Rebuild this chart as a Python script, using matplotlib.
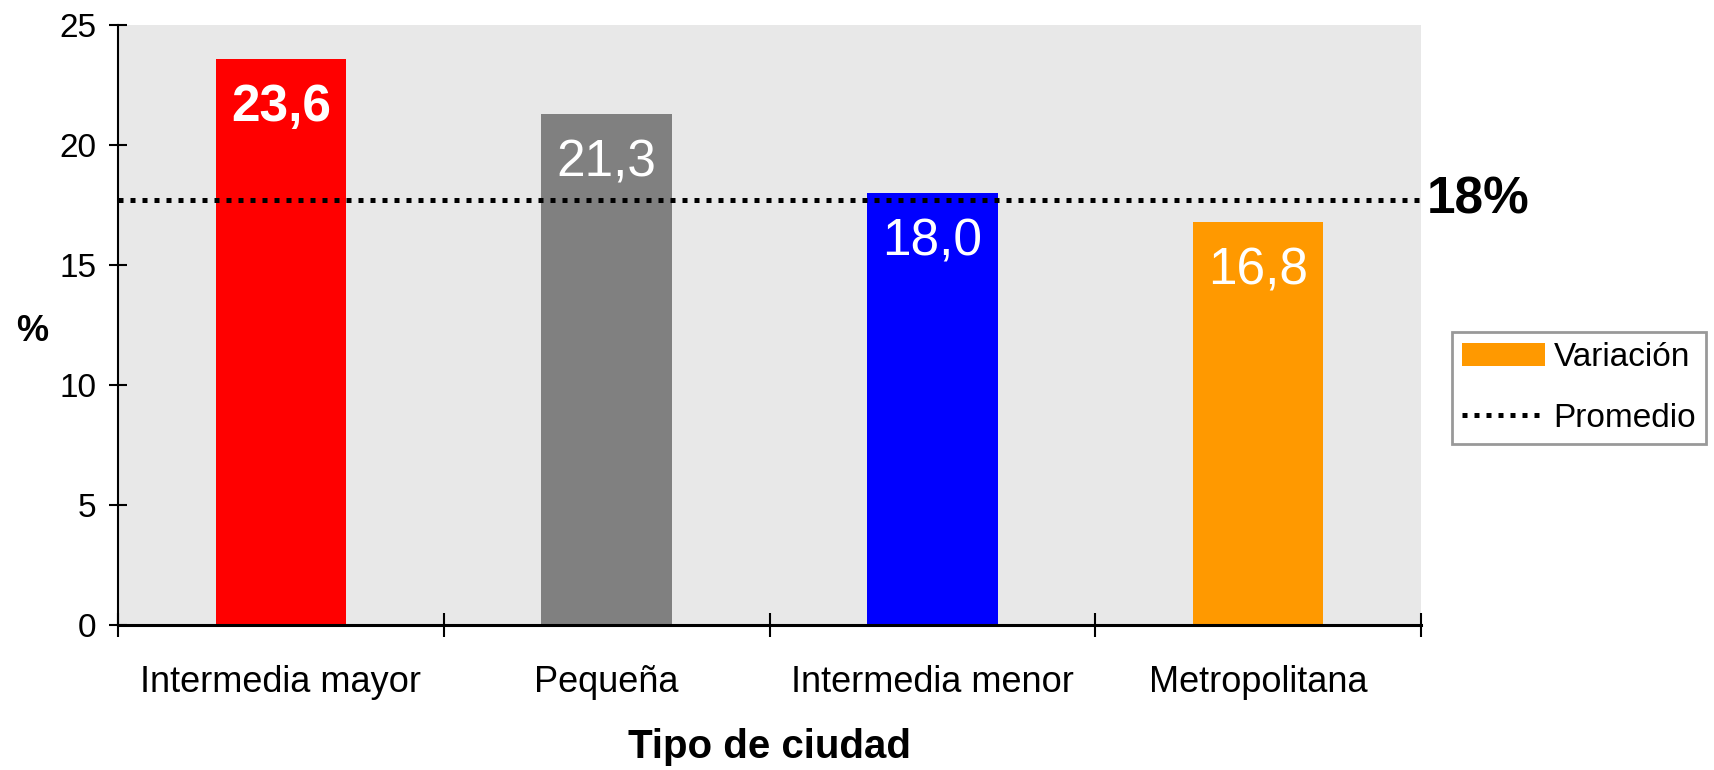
import numpy as np
import matplotlib.pyplot as plt
from matplotlib.patches import Patch
from matplotlib.lines import Line2D

plt.rcParams['font.family'] = ['Liberation Sans', 'DejaVu Sans']

categorias = ["Intermedia mayor", "Pequeña", "Intermedia menor", "Metropolitana"]
variacion = [23.6, 21.3, 18.0, 16.8]
etiquetas = ["23,6", "21,3", "18,0", "16,8"]
promedio = 17.7
colores = ["#FF0000", "#808080", "#0000FF", "#FF9900"]

fig = plt.figure(figsize=(17.15, 7.7), dpi=100)
ax = fig.add_axes([0.0688, 0.1883, 0.7598, 0.7792])
ax.set_facecolor("#E8E8E8")

x = np.arange(len(categorias))
ax.bar(x, variacion, width=0.4, color=colores, zorder=2)

for i, (v, t) in enumerate(zip(variacion, etiquetas)):
    ax.text(i, v - 2.05, t, ha="center", va="center", color="white",
            fontsize=37, fontweight="bold" if i == 0 else "normal", zorder=4)

ax.axhline(promedio, color="black", lw=3.6, linestyle=(0, (1, 1.4)), zorder=3)
ax.text(1.004, promedio, "18%", transform=ax.get_yaxis_transform(),
        ha="left", va="center", fontsize=37, fontweight="bold")

ax.set_xlim(-0.5, 3.5)
ax.set_ylim(0, 25)
ax.set_yticks([0, 5, 10, 15, 20, 25])
ax.tick_params(axis="y", direction="inout", length=13, width=1.5, labelsize=24, pad=9)
ax.set_xticks(np.arange(-0.5, 4, 1))
ax.set_xticklabels([])
ax.set_xticks(x, minor=True)
ax.set_xticklabels(categorias, minor=True)
ax.tick_params(axis="x", which="major", direction="inout", length=17, width=1.5)
ax.tick_params(axis="x", which="minor", length=0, labelsize=26, pad=29)

for s in ["top", "right"]:
    ax.spines[s].set_visible(False)
ax.spines["left"].set_linewidth(1.5)
ax.spines["bottom"].set_linewidth(2.2)

ax.set_xlabel("Tipo de ciudad", fontsize=29, fontweight="bold", labelpad=20)
ax.set_ylabel("%", fontsize=26, fontweight="bold", rotation=0, va="center")
ax.yaxis.set_label_coords(-0.066, 0.49)

handles = [Patch(facecolor="#FF9900", edgecolor="none"),
           Line2D([0], [0], color="black", lw=3.6, linestyle=(0, (1, 1.4)))]
leg = fig.legend(handles, ["Variación", "Promedio"], loc="upper left",
                 bbox_to_anchor=(1452 / 1715, 1 - 332 / 770), fontsize=24,
                 frameon=True, fancybox=False, edgecolor="#808080",
                 handlelength=2.5, handletextpad=0.25, borderpad=0.3,
                 labelspacing=0.9, borderaxespad=0)
leg.get_frame().set_linewidth(2)

fig.savefig("out.png", dpi=100)
